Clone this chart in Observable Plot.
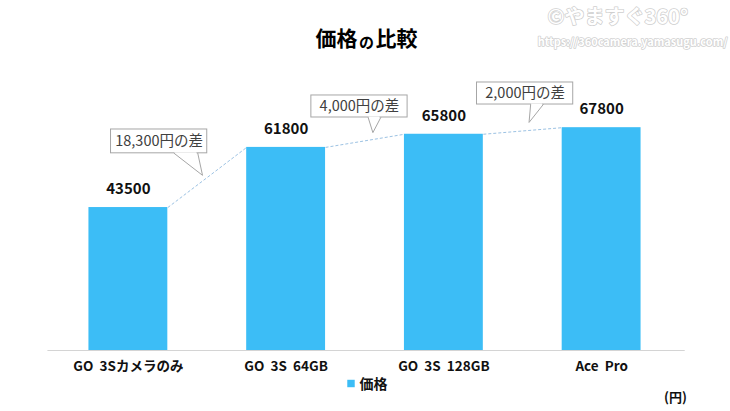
<!DOCTYPE html>
<html><head><meta charset="utf-8">
<script src="https://cdn.jsdelivr.net/npm/d3@7"></script>
<script src="https://cdn.jsdelivr.net/npm/@observablehq/plot@0.6"></script>
<style>body{margin:0;background:#fff;} #chart svg{display:block;}</style>
</head><body><div id="chart"></div>
<script>
const categories = ["GO  3Sカメラのみ", "GO  3S  64GB", "GO  3S  128GB", "Ace  Pro"];
const prices = [43500, 61800, 65800, 67800];
const seriesName = "価格";
const diffLabels = ["18,300円の差", "4,000円の差", "2,000円の差"];
// callout geometry in data units (x: category index, y: yen)
const boxX1 = [-0.11, 1.16, 2.21];
const boxX2 = [0.50, 1.77, 2.82];
const boxY1 = [60000, 70900, 74850];
const boxY2 = [67250, 77600, 81550];
const baseX1 = [0.29, 1.52, 2.55];
const baseX2 = [0.44, 1.60, 2.63];
const tipX = [0.47, 1.55, 2.54];
const tipY = [53300, 66300, 69400];

const FONT = "'Noto Sans CJK JP', 'Noto Sans', sans-serif";
const BAR = "#3cbdf6";
const bars = prices.map((v, i) => ({i, v, c: categories[i]}));
const links = prices.slice(0, -1).map((v, i) => ({x1: i + 0.25, y1: v, x2: i + 0.75, y2: prices[i + 1]}));
const callouts = diffLabels.map((t, k) => ({
  t, x1: boxX1[k], x2: boxX2[k], y1: boxY1[k], y2: boxY2[k],
  cx: (boxX1[k] + boxX2[k]) / 2, cy: (boxY1[k] + boxY2[k]) / 2
}));
const wedges = diffLabels.flatMap((t, k) => [
  {k, x: baseX1[k], y: boxY1[k]},
  {k, x: tipX[k], y: tipY[k]},
  {k, x: baseX2[k], y: boxY1[k]}
]);

const chart = Plot.plot({
  width: 730, height: 411,
  marginLeft: 49, marginRight: 50, marginTop: 0, marginBottom: 61,
  style: {fontFamily: FONT, background: "#fff", overflow: "visible"},
  x: {type: "linear", domain: [-0.5, 3.5], axis: null},
  y: {domain: [0, 106500], axis: null},
  marks: [
    Plot.ruleY([0], {x1: -0.51, x2: 3.53, stroke: "#d4d4d4", strokeWidth: 1}),
    Plot.rect(bars, {x1: d => d.i - 0.25, x2: d => d.i + 0.25, y1: 0, y2: "v", fill: BAR}),
    Plot.link(links, {x1: "x1", y1: "y1", x2: "x2", y2: "y2", stroke: "#9cc2e3", strokeWidth: 1, strokeDasharray: "3,2"}),
    Plot.text(bars, {x: "i", y: "v", text: d => String(d.v), dy: -18, fontSize: 15, fontWeight: "bold", fill: "#111"}),
    Plot.text(bars, {x: "i", y: 0, text: "c", dy: 16, fontSize: 13.5, fontWeight: "bold", fill: "#111", style: "white-space:pre"}),
    // callouts
    Plot.rect(callouts, {x1: "x1", x2: "x2", y1: "y1", y2: "y2", fill: "white", stroke: "#a6a6a6", strokeWidth: 1}),
    Plot.ruleY(callouts.map((c, k) => ({y: boxY1[k], a: baseX1[k] + 0.005, b: baseX2[k] - 0.005})), {y: "y", x1: "a", x2: "b", stroke: "white", strokeWidth: 2}),
    Plot.line(wedges, {x: "x", y: "y", z: "k", stroke: "#a6a6a6", strokeWidth: 1}),
    Plot.text(callouts, {x: "cx", y: "cy", text: "t", fontSize: 14.5, fill: "#404040"}),
    // title
    Plot.text(["価格"], {frameAnchor: "top-left", dx: 357 - 49, dy: 39, textAnchor: "end", lineAnchor: "middle", fontSize: 21, fontWeight: "bold", fill: "#000"}),
    Plot.text(["の"], {frameAnchor: "top-left", dx: 366 - 49, dy: 43, textAnchor: "middle", lineAnchor: "middle", fontSize: 15, fontWeight: "bold", fill: "#000"}),
    Plot.text(["比較"], {frameAnchor: "top-left", dx: 375 - 49, dy: 39, textAnchor: "start", lineAnchor: "middle", fontSize: 21, fontWeight: "bold", fill: "#000"}),
    // watermark
    Plot.text(["©やますぐ360°"], {frameAnchor: "top-left", dx: 547 - 49, dy: 17, textAnchor: "start", lineAnchor: "middle", fontSize: 20, fontWeight: "bold", fill: "white", stroke: "#cfcfcf", strokeWidth: 1.5, paintOrder: "stroke"}),
    Plot.text(["https://360camera.yamasugu.com/"], {frameAnchor: "top-left", dx: 727 - 49, dy: 42, textAnchor: "end", lineAnchor: "middle", fontSize: 11, fontWeight: "bold", fill: "white", stroke: "#cfcfcf", strokeWidth: 1.5, paintOrder: "stroke"}),
    // legend
    Plot.dot([seriesName], {frameAnchor: "top-left", dx: 350.5 - 49, dy: 383, symbol: "square", r: 4.2, fill: BAR, stroke: null}),
    Plot.text([seriesName], {frameAnchor: "top-left", dx: 359 - 49, dy: 384, textAnchor: "start", lineAnchor: "middle", fontSize: 14, fontWeight: "bold", fill: "#111"}),
    Plot.text(["(円)"], {frameAnchor: "top-left", dx: 675 - 49, dy: 397, textAnchor: "middle", lineAnchor: "middle", fontSize: 13, fontWeight: "bold", fill: "#111"})
  ]
});
document.getElementById("chart").append(chart);
</script>
</body></html>
